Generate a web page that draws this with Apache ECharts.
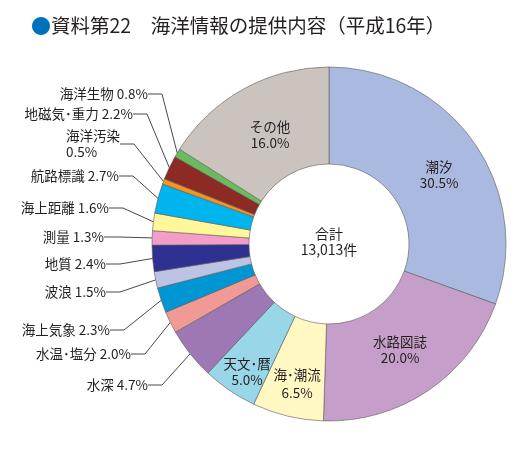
<!DOCTYPE html>
<html><head><meta charset="utf-8">
<script src="https://cdn.jsdelivr.net/npm/echarts@6/dist/echarts.min.js"></script>
<style>html,body{margin:0;padding:0;background:#fff}#c{width:527px;height:449px}</style>
</head><body><div id="c"></div>
<script>
const categories = ['潮汐','水路図誌','海･潮流','天文･暦','水深','水温･塩分','海上気象','波浪','地質','測量','海上距離','航路標識','海洋汚染','地磁気･重力','海洋生物','その他'];
const values = [30.5,20.0,6.5,5.0,4.7,2.0,2.3,1.5,2.4,1.3,1.6,2.7,0.5,2.2,0.8,16.0];
const colors = ['#aab9df','#c59fc9','#fff8c2','#99d6e8','#9e78b5','#f19a95','#0096d3','#bcc3e3','#2e3192','#f29ec8','#fff799','#00b5ed','#f7941d','#8b2b23','#6abb5e','#cbc3be'];
const insideNames = ['潮汐','水路図誌','海･潮流','天文･暦','その他'];
const totalLabel = '13,013件';

// label placements (label anchor positions, not marks)
const labelPos = {
  '潮汐':[439,175,'center'], '水路図誌':[400,350,'center'], '海･潮流':[297,384,'center'],
  '天文･暦':[247,372,'center'], 'その他':[270,135,'center'],
  '海洋生物':[148,94,'right'], '地磁気･重力':[133,114,'right'], '海洋汚染':[66,144,'left'],
  '航路標識':[119,176,'right'], '海上距離':[109,208,'right'], '測量':[104,237,'right'],
  '地質':[106,264,'right'], '波浪':[106,292,'right'], '海上気象':[110,330,'right'],
  '水温･塩分':[131,354,'right'], '水深':[148,385,'right']
};

const chart = echarts.init(document.getElementById('c'));
const font = '"Noto Sans CJK JP", "Noto Sans", sans-serif';
chart.setOption({
  animation:false,
  title:{
    text:'{d|●}{t|資料第22　海洋情報の提供内容（平成16年）}',
    left:26, top:11,
    textStyle:{fontWeight:'normal', rich:{
      d:{color:'#0072bc',fontSize:20,fontFamily:font,fontWeight:'normal'},
      t:{color:'#231f20',fontSize:19.5,fontFamily:font,fontWeight:'normal'}
    }}
  },
  graphic:[{
    type:'text', x:329, y:242,
    style:{text:'合計\n'+totalLabel, fill:'#231f20', font:'14px '+font, align:'center', verticalAlign:'middle', lineHeight:16}
  }],
  series:[{
    type:'pie',
    center:[329,244], radius:[80,177],
    startAngle:90, clockwise:true, avoidLabelOverlap:false,
    itemStyle:{borderColor:'#5a5a5a', borderWidth:0.6},
    label:{color:'#231f20', fontSize:13.5, fontFamily:font, lineHeight:16},
    labelLine:{lineStyle:{color:'#333', width:0.9}, length:12, length2:14},
    labelLayout:function(p){
      const pos = labelPos[categories[p.dataIndex]];
      if (!pos) return {};
      return {x:pos[0], y:pos[1], align:pos[2], verticalAlign:'middle'};
    },
    data:categories.map((n,i)=>{
      const inside = insideNames.indexOf(n)>=0;
      const v = values[i];
      let text;
      if (inside) text = n+'\n'+v.toFixed(1)+'%';
      else if (n==='海洋汚染') text = n+'\n'+v.toFixed(1)+'%';
      else text = n+' '+v.toFixed(1)+'%';
      return {name:n, value:v, itemStyle:{color:colors[i]},
        label:{formatter:text, position: inside?'inside':'outside', lineHeight: (n==='海･潮流')?18:16},
        labelLine:{show:!inside}};
    })
  }]
});
</script></body></html>
